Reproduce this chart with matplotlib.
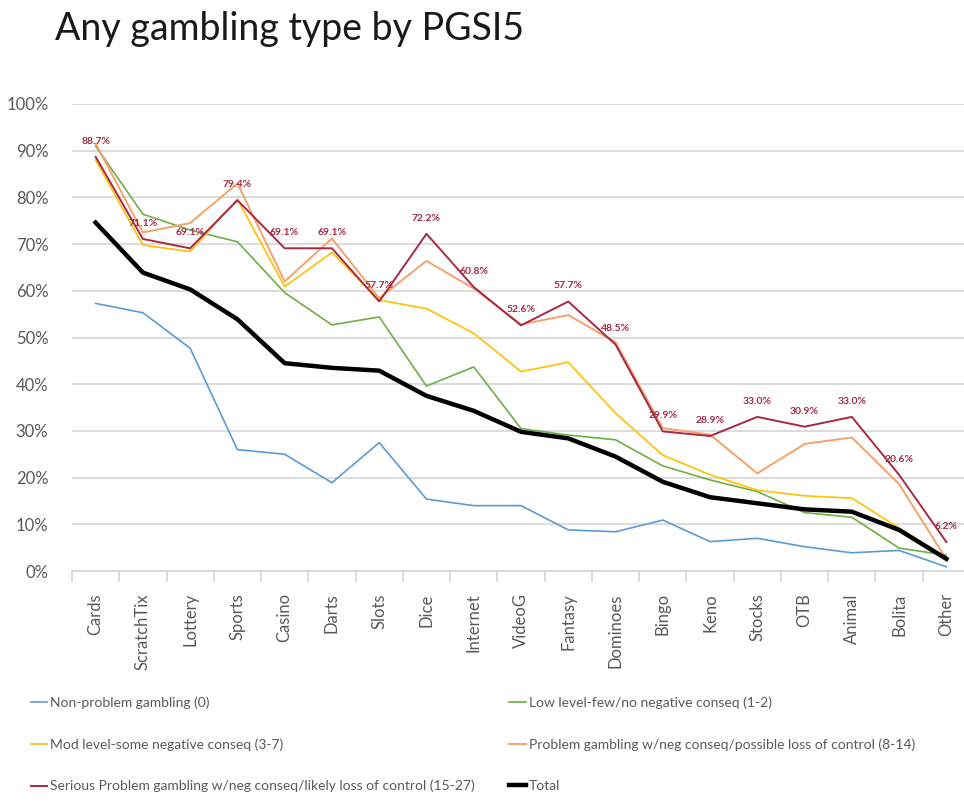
import matplotlib
matplotlib.use("Agg")
import matplotlib.pyplot as plt
import numpy as np

plt.rcParams['font.family'] = ['Lato', 'DejaVu Sans']

# categories along the x axis
categories = ["Cards", "ScratchTix", "Lottery", "Sports", "Casino", "Darts", "Slots",
              "Dice", "Internet", "VideoG", "Fantasy", "Dominoes", "Bingo", "Keno",
              "Stocks", "OTB", "Animal", "Bolita", "Other"]

# percentages
non_problem = [57.3, 55.3, 47.7, 26.0, 25.0, 18.9, 27.5, 15.4, 14.0, 14.0, 8.8, 8.4,
               10.9, 6.3, 7.0, 5.2, 3.9, 4.4, 0.9]
low_level = [91.0, 76.4, 73.0, 70.5, 59.6, 52.7, 54.4, 39.6, 43.7, 30.5, 29.1, 28.1,
             22.5, 19.5, 17.0, 12.5, 11.5, 4.9, 3.4]
mod_level = [88.0, 69.8, 68.4, 79.6, 60.9, 68.2, 58.0, 56.2, 50.9, 42.7, 44.7, 33.8,
             24.8, 20.6, 17.3, 16.1, 15.6, 9.2, 2.8]
problem = [91.5, 72.5, 74.5, 83.0, 62.0, 71.2, 58.4, 66.4, 60.5, 52.8, 54.8, 49.0,
           30.6, 29.2, 20.9, 27.2, 28.6, 18.6, 2.5]
serious = [88.7, 71.1, 69.1, 79.4, 69.1, 69.1, 57.7, 72.2, 60.8, 52.6, 57.7, 48.5,
           29.9, 28.9, 33.0, 30.9, 33.0, 20.6, 6.2]
total = [74.6, 63.9, 60.3, 53.9, 44.5, 43.5, 42.9, 37.5, 34.3, 29.8, 28.4, 24.5,
         19.1, 15.8, 14.5, 13.2, 12.7, 8.8, 2.6]

series_labels = ["Non-problem gambling (0)",
                 "Low level-few/no negative conseq (1-2)",
                 "Mod level-some negative conseq (3-7)",
                 "Problem gambling w/neg conseq/possible loss of control (8-14)",
                 "Serious Problem gambling w/neg conseq/likely loss of control (15-27)",
                 "Total"]

fig = plt.figure(figsize=(9.64, 8.07), dpi=100)
ax = fig.add_axes([72 / 964, (807 - 571) / 807, 898 / 964, 467 / 807])

x = np.arange(len(categories))
l_np, = ax.plot(x, np.array(non_problem) / 100, color="#5B9BD5", lw=1.2)
l_low, = ax.plot(x, np.array(low_level) / 100, color="#70AD47", lw=1.2)
l_mod, = ax.plot(x, np.array(mod_level) / 100, color="#FFC000", lw=1.2)
l_prob, = ax.plot(x, np.array(problem) / 100, color="#F4A26B", lw=1.4)
l_ser, = ax.plot(x, np.array(serious) / 100, color="#A52A45", lw=1.4)
l_tot, = ax.plot(x, np.array(total) / 100, color="black", lw=3.2)

# data labels on the serious series
for xi, v in zip(x, serious):
    ax.annotate(f"{v:.1f}%", (xi, v / 100), xytext=(0, 8), textcoords="offset points",
                ha="center", va="bottom", fontsize=7.5, color="#A52A45", fontweight="bold")

ax.set_xlim(-0.5, len(categories) - 0.5)
ax.set_ylim(0, 1.0)
ax.set_yticks(np.arange(0, 1.01, 0.1))
ax.set_yticklabels([f"{int(round(t * 100))}%" for t in np.arange(0, 1.01, 0.1)],
                   fontsize=12, color="#595959")
ax.yaxis.grid(True, color="#D9D9D9", lw=1.3)
ax.set_axisbelow(True)
ax.tick_params(axis="y", length=0, pad=17)

ax.set_xticks(x)
ax.set_xticklabels(categories, rotation=90, fontsize=12, color="#595959")
ax.set_xticks(np.arange(-0.5, len(categories), 1), minor=True)
ax.tick_params(axis="x", which="major", length=0, pad=16)
ax.tick_params(axis="x", which="minor", length=8, color="#D9D9D9", width=1.3)

for s in ["top", "right", "left"]:
    ax.spines[s].set_visible(False)
ax.spines["bottom"].set_color("#D9D9D9")
ax.spines["bottom"].set_linewidth(1.3)

fig.text(55 / 964, 1 - 40 / 807, "Any gambling type by PGSI5", fontsize=27,
         fontweight="normal", color="#1a1a1a", ha="left", va="baseline")

handles = [l_np, l_mod, l_ser, l_low, l_prob, l_tot]
labels = [series_labels[0], series_labels[2], series_labels[4],
          series_labels[1], series_labels[3], series_labels[5]]
fig.legend(handles, labels, loc="upper left", bbox_to_anchor=(18 / 964, 1 - 684 / 807),
           ncol=2, frameon=False, fontsize=10, handlelength=1.2, handletextpad=0.2,
           labelspacing=2.1, columnspacing=2.5, labelcolor="#595959")

fig.savefig("out.png", dpi=100)
